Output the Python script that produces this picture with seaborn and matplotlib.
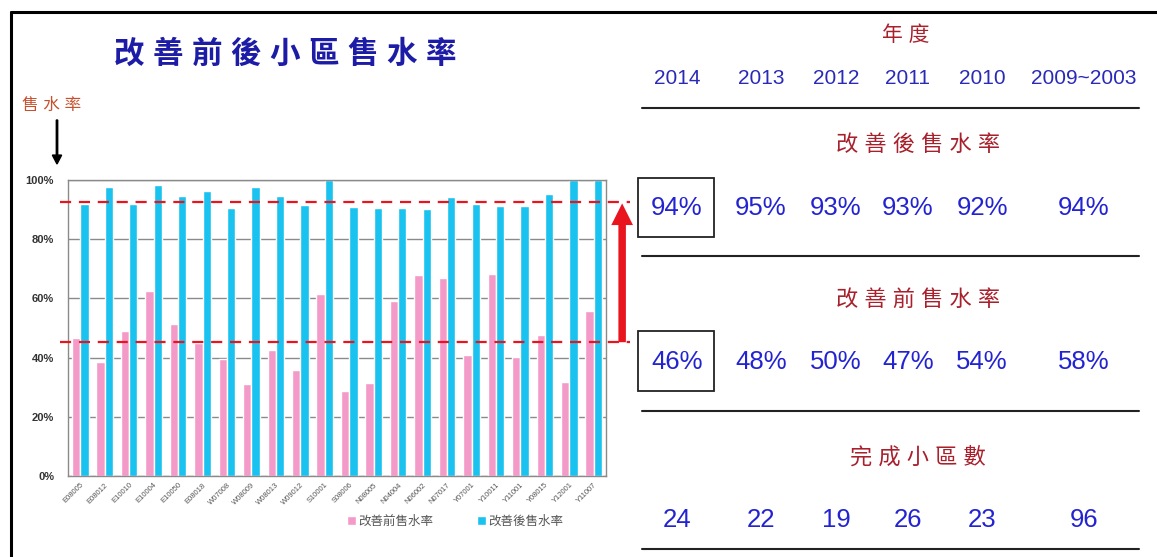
import numpy as np
import pandas as pd
import matplotlib
matplotlib.use("Agg")
import matplotlib.pyplot as plt
import seaborn as sns
from matplotlib.patches import Rectangle, FancyArrow
from matplotlib.lines import Line2D
from matplotlib.ticker import FuncFormatter

# ---------------- data ----------------
districts = ["E08005", "E08012", "E10010", "E10004", "E10050", "E08018", "W07008",
             "W08009", "W08013", "W09012", "S10001", "S08006", "N08005", "N04004",
             "N06002", "N07017", "Y07001", "Y10011", "Y11001", "Y08015", "Y12001", "Y11007"]
before_rate = [46.7, 38.5, 49.1, 62.5, 51.4, 45.0, 39.6, 31.0, 42.6, 35.7, 61.6,
               28.8, 31.3, 59.1, 67.9, 66.8, 40.8, 68.4, 40.3, 47.7, 31.7, 55.6]
after_rate = [91.8, 97.5, 91.8, 98.4, 94.6, 96.4, 90.6, 97.7, 94.7, 91.7, 100.0,
              91.0, 90.6, 90.6, 90.2, 94.1, 92.0, 91.2, 91.2, 95.3, 100.0, 100.0]
series_names = ["改善前售水率", "改善後售水率"]
avg_after_line = 92.6
avg_before_line = 45.2

title_text = "改善前後小區售水率"
ylabel_text = "售水率"
y_ticks = [0, 20, 40, 60, 80, 100]

table_header = "年度"
years = ["2014", "2013", "2012", "2011", "2010", "2009~2003"]
after_label = "改善後售水率"
after_values = ["94%", "95%", "93%", "93%", "92%", "94%"]
before_label = "改善前售水率"
before_values = ["46%", "48%", "50%", "47%", "54%", "58%"]
count_label = "完成小區數"
count_values = ["24", "22", "19", "26", "23", "96"]

# ---------------- style ----------------
sns.set_theme(style="white")
plt.rcParams["font.family"] = ["Liberation Sans", "Noto Sans CJK TC", "DejaVu Sans"]

W, H = 1157, 557
PINK = "#f49ac8"
BLUE = "#1ac2f0"
RED = "#e8141e"
DARKRED = "#a8202c"
TXTBLUE = "#2323d2"


def fx(x):
    return x / W


def fy(y):
    return 1 - y / H


fig = plt.figure(figsize=(W / 100, H / 100), dpi=100)
fig.patch.set_facecolor("white")

ax_l, ax_r, ax_t, ax_b = 68, 606, 180, 476
ax = fig.add_axes([fx(ax_l), fy(ax_b), (ax_r - ax_l) / W, (ax_b - ax_t) / H])

df = pd.DataFrame({
    "小區": districts * 2,
    "售水率": before_rate + after_rate,
    "類別": [series_names[0]] * len(districts) + [series_names[1]] * len(districts),
})

sns.barplot(data=df, x="小區", y="售水率", hue="類別", hue_order=series_names,
            palette=[PINK, BLUE], saturation=1, width=0.68, ax=ax, legend=True)

ax.set_ylim(0, 100)
ax.set_xlim(-0.5, len(districts) - 0.5)
ax.set_yticks(y_ticks)
ax.yaxis.set_major_formatter(FuncFormatter(lambda v, p: f"{v:.0f}%"))
ax.yaxis.grid(True, color="#8a8a8a", linewidth=1.0)
ax.set_axisbelow(True)
for s in ax.spines.values():
    s.set_color("#8a8a8a")
    s.set_linewidth(1.0)
ax.set_xlabel("")
ax.set_ylabel("")
ax.tick_params(axis="y", labelsize=8, colors="#333333", length=0, pad=10)
for lab in ax.get_yticklabels():
    lab.set_fontweight("bold")
ax.tick_params(axis="x", labelsize=5.5, colors="#555555", length=2, pad=2)
plt.setp(ax.get_xticklabels(), rotation=45, ha="right", rotation_mode="anchor")

sns.move_legend(ax, loc="center", bbox_to_anchor=(0.72, -0.155), ncol=2, frameon=False,
                fontsize=9, handlelength=0.7, handleheight=0.7, columnspacing=3.5,
                handletextpad=0.2, title=None)
for t in ax.get_legend().get_texts():
    t.set_color("#555555")

# dashed reference lines (extend beyond axes)
trans = ax.get_yaxis_transform()
for val in (avg_after_line, avg_before_line):
    ax.add_line(Line2D([-0.015, 1.045], [val, val], transform=trans, color=RED,
                       linestyle=(0, (5, 3.5)), linewidth=1.6, clip_on=False, zorder=5))

# red arrow
ax.annotate("", xy=(1.03, avg_after_line - 0.5), xytext=(1.03, avg_before_line),
            xycoords=trans, textcoords=trans,
            arrowprops=dict(arrowstyle="simple,head_length=1.3,head_width=1.3,tail_width=0.45",
                            color=RED, lw=0, shrinkA=0, shrinkB=0),
            annotation_clip=False, zorder=6)

# title and y label
fig.text(fx(285), fy(55), " ".join(title_text), ha="center", va="center",
         fontsize=22, color="#1c1ca6", fontweight="bold")
fig.text(fx(52), fy(105), " ".join(ylabel_text), ha="center", va="center",
         fontsize=12, color="#c8502e")
fig.add_artist(FancyArrow(fx(57), fy(120), 0, fy(164) - fy(120), width=0.0012,
                          head_width=0.008, head_length=0.016,
                          length_includes_head=True, color="black",
                          transform=fig.transFigure))

# border lines
fig.add_artist(Line2D([fx(11), 1], [fy(11.5), fy(11.5)], color="black", linewidth=2.2,
                      transform=fig.transFigure))
fig.add_artist(Line2D([fx(11), fx(11)], [fy(11.5), 0], color="black", linewidth=2.2,
                      transform=fig.transFigure))

# right side table
col_x = [677, 761, 836, 908, 982, 1084]
for y_line in (108, 256, 411, 549):
    fig.add_artist(Line2D([fx(642), fx(1139)], [fy(y_line), fy(y_line)], color="#222222",
                          linewidth=1.5, transform=fig.transFigure))

fig.text(fx(906), fy(35), " ".join(table_header), ha="center", va="center",
         fontsize=15, color=DARKRED)
for x, yr in zip(col_x, years):
    fig.text(fx(x), fy(78), yr, ha="center", va="center", fontsize=15, color="#2a2ab8")

rows = [(after_label, 145, after_values, 208),
        (before_label, 300, before_values, 362),
        (count_label, 458, count_values, 520)]
for label, ly, vals, vy in rows:
    fig.text(fx(918), fy(ly), " ".join(label), ha="center", va="center",
             fontsize=16, color=DARKRED)
    for x, v in zip(col_x, vals):
        fig.text(fx(x), fy(vy), v, ha="center", va="center", fontsize=18.5, color=TXTBLUE)

for (y0, y1) in ((178, 237), (331, 391)):
    fig.add_artist(Rectangle((fx(638), fy(y1)), (714 - 638) / W, (y1 - y0) / H,
                             fill=False, edgecolor="#222222", linewidth=1.3,
                             transform=fig.transFigure))

fig.savefig("out.png", dpi=100, facecolor="white")
